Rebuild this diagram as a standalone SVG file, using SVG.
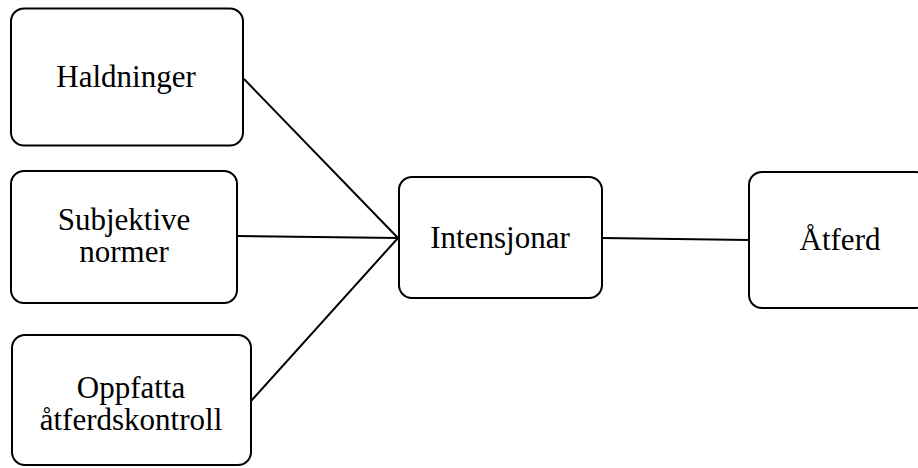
<svg xmlns="http://www.w3.org/2000/svg" width="918" height="468" viewBox="0 0 918 468">
<style>
.box{fill:#fff;stroke:#000;stroke-width:2}
.lbl{font-family:"Liberation Serif","Times New Roman",serif;font-size:31px;fill:#000;text-anchor:middle}
.con{stroke:#000;stroke-width:2;fill:none}
</style>
<rect width="918" height="468" fill="#fff"/>
<g id="connectors">
<line class="con" x1="244" y1="79" x2="398" y2="238"/>
<line class="con" x1="237" y1="236" x2="398" y2="238"/>
<line class="con" x1="251" y1="401" x2="398" y2="238"/>
<line class="con" x1="602" y1="238" x2="749" y2="240"/>
</g>
<g id="haldninger">
<rect class="box" x="11" y="8.5" width="232" height="137" rx="13"/>
<text class="lbl" x="126" y="87">Haldninger</text>
</g>
<g id="subjektive">
<rect class="box" x="11" y="171" width="226" height="132" rx="13"/>
<text class="lbl" x="124" y="230">Subjektive</text>
<text class="lbl" x="124" y="262">normer</text>
</g>
<g id="oppfatta">
<rect class="box" x="12" y="335" width="239" height="130" rx="13"/>
<text class="lbl" x="131" y="398">Oppfatta</text>
<text class="lbl" x="131" y="430">åtferdskontroll</text>
</g>
<g id="intensjonar">
<rect class="box" x="399" y="177" width="203" height="121" rx="13"/>
<text class="lbl" x="500" y="248">Intensjonar</text>
</g>
<g id="atferd">
<rect class="box" x="749" y="172" width="180" height="136" rx="13"/>
<text class="lbl" x="840" y="250">Åtferd</text>
</g>
</svg>
